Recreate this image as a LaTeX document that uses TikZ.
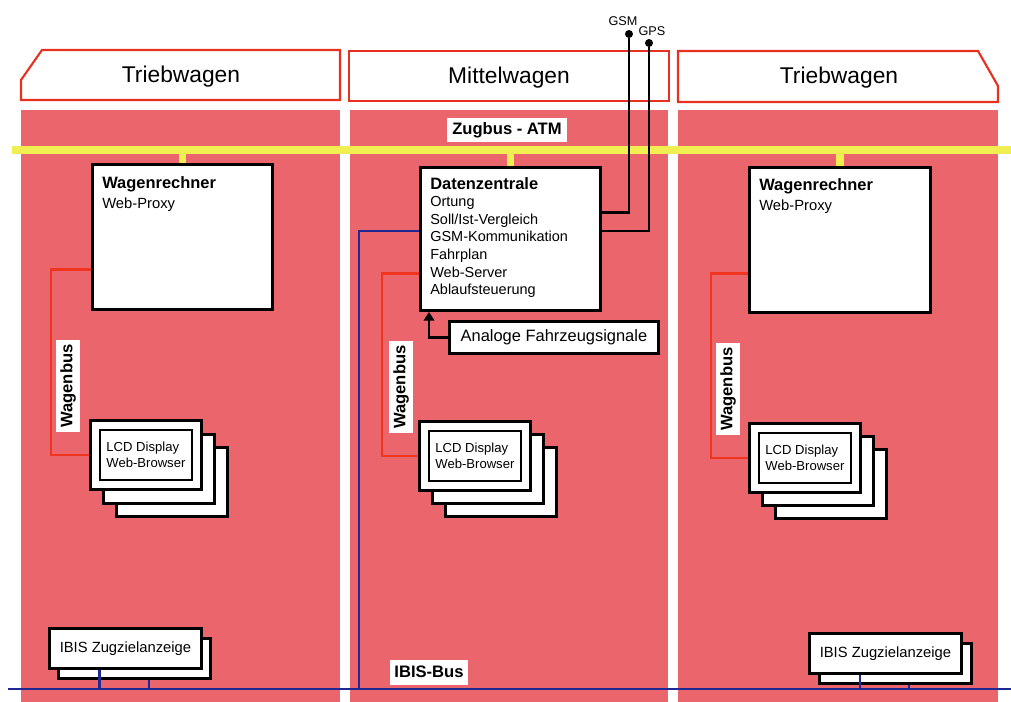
\documentclass[tikz,border=0pt]{standalone}
\usepackage{fontspec}
\setmainfont{Liberation Sans}
\usepackage{tikz}
\usetikzlibrary{arrows.meta,positioning,calc}
\definecolor{wagenrot}{RGB}{234,102,108}
\definecolor{rahmenrot}{RGB}{232,48,30}
\definecolor{busrot}{RGB}{240,52,30}
\definecolor{busgelb}{RGB}{240,238,80}
\definecolor{ibisblau}{RGB}{32,40,150}

\begin{document}
\begin{tikzpicture}[
    x=0.025cm, y=-0.025cm,
    kopf/.style={draw=rahmenrot, line width=1.5pt, fill=white},
    kopftxt/.style={font=\fontsize{16.2}{19}\selectfont},
    box/.style={draw, line width=2pt, fill=white, inner sep=0pt, anchor=north west},
    boxtxt/.style={align=left, inner sep=0pt, anchor=north west, font=\fontsize{10.3}{12.5}\selectfont},
    lcd/.style={box, minimum width=2.775cm, minimum height=1.725cm},
    lcdin/.style={draw, line width=1.5pt, fill=white, inner sep=0pt, minimum width=2.3cm, minimum height=1.25cm, align=left, font=\fontsize{9.3}{11.3}\selectfont},
    ibisbox/.style={box, minimum width=3.8cm, minimum height=1cm, font=\fontsize{10.5}{12}\selectfont},
    lbl/.style={fill=white, inner sep=0pt, font=\bfseries\fontsize{11.8}{14}\selectfont},
    dot/.style={circle, fill=black, inner sep=0pt, minimum size=0.2cm},
    klein/.style={inner sep=0pt, font=\fontsize{9}{10}\selectfont},
    atm/.style={busgelb, line width=5.5pt},
    wbus/.style={busrot, line width=2pt},
    ibis/.style={ibisblau, line width=1.6pt},
    ant/.style={line width=1.5pt},
    sig/.style={-{Triangle[length=2.2mm,width=2.6mm]}, line width=2pt}
]
\useasboundingbox[fill=white] (0,0) rectangle (1011,702);

% Wagenkoerper
\fill[wagenrot] (21,110) rectangle (340,702);
\fill[wagenrot] (350,110) rectangle (668,702);
\fill[wagenrot] (678,110) rectangle (998,702);

\draw[kopf] (42,50) -- (340,50) -- (340,100) -- (21,100) -- (21,80) -- cycle;
\draw[kopf] (349,51) rectangle (669,101);
\draw[kopf] (678,51) -- (978,51) -- (998,86) -- (998,102) -- (678,102) -- cycle;
\node[kopftxt] (k1) at (181,77) {Triebwagen};
\node[kopftxt] (k2) at (509,78) {Mittelwagen};
\node[kopftxt] (k3) at (839,78) {Triebwagen};

% Busse
\coordinate (atmL) at (12,150);
\coordinate (atmR) at (1011,150);
\coordinate (ibisL) at (8,689);
\coordinate (ibisR) at (1011,689);
\coordinate (bj) at (359,689);
\draw[atm] (atmL) -- (atmR);
\draw[ibis] (ibisL) -- (ibisR);

\node[box, minimum width=4.5cm, minimum height=3.625cm] (wr1) at (91,163) {};
\node[box, minimum width=4.5cm, minimum height=3.575cm] (datz) at (419,166) {};
\node[box, minimum width=4.525cm, minimum height=3.625cm] (wr2) at (748,166) {};

\draw[atm] (wr1.north) -- (wr1.north |- atmL);
\draw[atm] (datz.north) -- (datz.north |- atmL);
\draw[atm] (wr2.north) -- (wr2.north |- atmL);

\node[boxtxt, font=\fontsize{10.5}{14.2}\selectfont] (wr1t) at (102,176) {{\bfseries\fontsize{11.7}{14}\selectfont Wagenrechner}\\Web-Proxy};
\node[boxtxt, font=\fontsize{10.5}{14.2}\selectfont] (wr2t) at (759,178) {{\bfseries\fontsize{11.7}{14}\selectfont Wagenrechner}\\Web-Proxy};
\node[boxtxt] (datzt) at (430,177) {{\bfseries\fontsize{11.7}{14}\selectfont Datenzentrale}\\Ortung\\Soll/Ist-Vergleich\\GSM-Kommunikation\\Fahrplan\\Web-Server\\Ablaufsteuerung};

\node[lbl, minimum width=3cm, minimum height=0.575cm] (zug) at (507,130) {Zugbus - ATM};
\node[lbl, minimum width=1.95cm, minimum height=0.625cm] (ibl) at (429,672) {IBIS-Bus};

% GSM / GPS
\node[dot] (gsm) at (629,34) {};
\node[dot] (gps) at (649,43) {};
\node[klein] (gsmt) at (623,21) {GSM};
\node[klein] (gpst) at (652,31) {GPS};
\draw[ant] (gsm) |- ([yshift=0.66cm]datz.east);
\draw[ant] (gps) |- ([yshift=0.19cm]datz.east);

% Analoge Signale
\node[box, minimum width=5.225cm, minimum height=0.8cm, font=\fontsize{11.7}{14}\selectfont] (ana) at (448,320) {Analoge Fahrzeugsignale};
\draw[sig] (ana.west) -| ([xshift=0.25cm]datz.south west);

% IBIS-Leitung zur Datenzentrale
\draw[ibis] ([yshift=0.19cm]datz.west) -| (bj);

% LCD Displays
\node[lcd] (lcd1c) at (115,446) {};
\node[lcd] (lcd1b) at (102,433) {};
\node[lcd] (lcd1) at (89,419) {};
\node[lcdin] (lcd1t) at (lcd1) {LCD Display\\Web-Browser};

\node[lcd] (lcd2c) at (444,446) {};
\node[lcd] (lcd2b) at (431,433) {};
\node[lcd] (lcd2) at (418,420) {};
\node[lcdin] (lcd2t) at (lcd2) {LCD Display\\Web-Browser};

\node[lcd] (lcd3c) at (774,448) {};
\node[lcd] (lcd3b) at (761,435) {};
\node[lcd] (lcd3) at (748,422) {};
\node[lcdin] (lcd3t) at (lcd3) {LCD Display\\Web-Browser};

% Wagenbus
\draw[wbus] ([yshift=-0.81cm]wr1.west) -- ++(-40,0) |- (lcd1.west);
\draw[wbus] ([yshift=-0.86cm]datz.west) -- ++(-37,0) |- (lcd2.west);
\draw[wbus] ([yshift=-0.84cm]wr2.west) -- ++(-37,0) |- (lcd3.west);
\node[lbl, rotate=90, minimum width=2.3cm, minimum height=0.6cm] (wb1) at (68,386) {Wagenbus};
\node[lbl, rotate=90, minimum width=2.3cm, minimum height=0.6cm] (wb2) at (401,387) {Wagenbus};
\node[lbl, rotate=90, minimum width=2.3cm, minimum height=0.6cm] (wb3) at (728,389) {Wagenbus};

% IBIS Zugzielanzeigen
\node[ibisbox] (ib1b) at (57,637) {};
\node[ibisbox] (ib1) at (48,627) {IBIS Zugzielanzeige};
\node[ibisbox] (ib2b) at (818,642) {};
\node[ibisbox] (ib2) at (808,632) {IBIS Zugzielanzeige};

\draw[ibis] ([xshift=-0.65cm]ib1.south) -- ([xshift=-0.65cm]ib1.south |- ibisL);
\draw[ibis] ([xshift=0.36cm]ib1b.south) -- ([xshift=0.36cm]ib1b.south |- ibisL);
\draw[ibis] ([xshift=-0.63cm]ib2.south) -- ([xshift=-0.63cm]ib2.south |- ibisL);
\draw[ibis] ([xshift=0.33cm]ib2b.south) -- ([xshift=0.33cm]ib2b.south |- ibisL);
\end{tikzpicture}
\end{document}
